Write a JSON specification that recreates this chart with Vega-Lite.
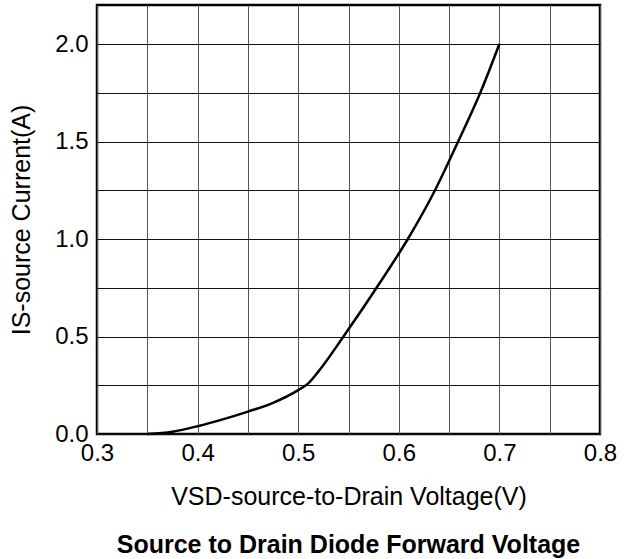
{
  "$schema": "https://vega.github.io/schema/vega-lite/v6.json",
  "autosize": "none",
  "padding": {"left": 97, "top": 5, "right": 30, "bottom": 125},
  "width": 503,
  "height": 429,
  "background": "white",
  "config": {
    "font": "Liberation Sans",
    "view": {"stroke": "black", "strokeWidth": 2.5},
    "axis": {"labelFont": "Liberation Sans", "titleFont": "Liberation Sans"}
  },
  "title": {
    "text": "Source to Drain Diode Forward Voltage",
    "orient": "bottom",
    "font": "Liberation Sans",
    "fontSize": 25,
    "fontWeight": "bold",
    "color": "black",
    "offset": 24
  },
  "data": {
    "values": [
      {"v": 0.35, "i": 0.0},
      {"v": 0.375, "i": 0.012},
      {"v": 0.4, "i": 0.04},
      {"v": 0.425, "i": 0.075},
      {"v": 0.45, "i": 0.115},
      {"v": 0.475, "i": 0.16},
      {"v": 0.5, "i": 0.225},
      {"v": 0.51, "i": 0.26},
      {"v": 0.52, "i": 0.32},
      {"v": 0.545, "i": 0.5},
      {"v": 0.583, "i": 0.79},
      {"v": 0.609, "i": 1.0},
      {"v": 0.636, "i": 1.25},
      {"v": 0.659, "i": 1.5},
      {"v": 0.681, "i": 1.75},
      {"v": 0.7, "i": 2.0}
    ]
  },
  "mark": {"type": "line", "color": "black", "strokeWidth": 2.5, "interpolate": "monotone"},
  "encoding": {
    "x": {
      "field": "v",
      "type": "quantitative",
      "scale": {"domain": [0.3, 0.8], "nice": false, "zero": false},
      "axis": {
        "title": "VSD-source-to-Drain Voltage(V)",
        "titleFontSize": 25,
        "titleFontWeight": "normal",
        "titleColor": "black",
        "titlePadding": 19,
        "values": [0.3, 0.35, 0.4, 0.45, 0.5, 0.55, 0.6, 0.65, 0.7, 0.75, 0.8],
        "labelExpr": "abs(datum.value*10 - round(datum.value*10)) < 0.001 ? format(datum.value, '.1f') : ''",
        "labelFontSize": 24,
        "labelColor": "black",
        "labelPadding": 7,
        "labelFlush": false,
        "ticks": false,
        "domain": false,
        "grid": true,
        "gridColor": "#555555",
        "gridOpacity": 1,
        "gridWidth": 1
      }
    },
    "y": {
      "field": "i",
      "type": "quantitative",
      "scale": {"domain": [0, 2.2], "nice": false},
      "axis": {
        "title": "IS-source Current(A)",
        "titleFontSize": 25,
        "titleFontWeight": "normal",
        "titleColor": "black",
        "titlePadding": 20,
        "values": [0, 0.25, 0.5, 0.75, 1.0, 1.25, 1.5, 1.75, 2.0],
        "labelExpr": "abs(datum.value*2 - round(datum.value*2)) < 0.001 ? format(datum.value, '.1f') : ''",
        "labelFontSize": 24,
        "labelColor": "black",
        "labelPadding": 9,
        "labelFlush": false,
        "ticks": false,
        "domain": false,
        "grid": true,
        "gridColor": "#111111",
        "gridOpacity": 1,
        "gridWidth": 1
      }
    }
  }
}
